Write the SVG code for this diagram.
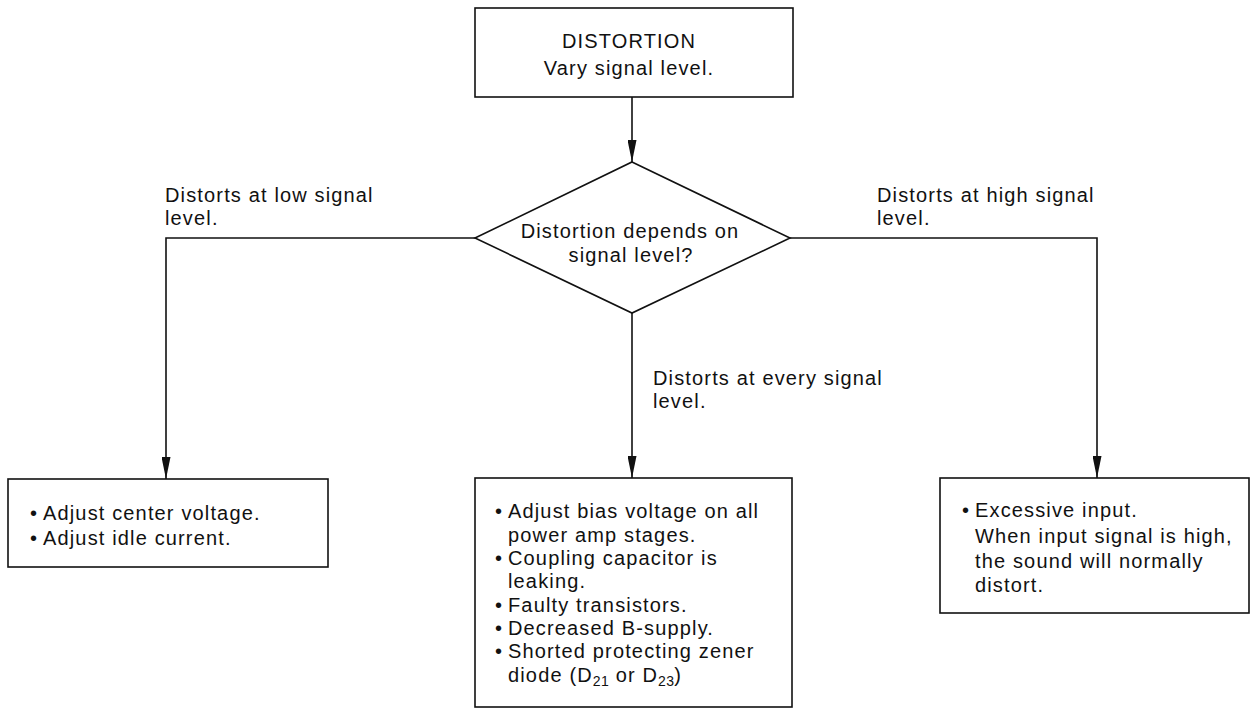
<svg xmlns="http://www.w3.org/2000/svg" width="1253" height="708" viewBox="0 0 1253 708">
<style>
.n{fill:#fff;stroke:#111;stroke-width:1.6}
.c{fill:none;stroke:#111;stroke-width:1.6}
text{font-family:"Liberation Sans",Arial,sans-serif;font-size:20px;letter-spacing:1.15px;fill:#111}
.m{text-anchor:middle}
.s{font-size:14px;letter-spacing:0.3px}
</style>
<defs>
<marker id="ah" viewBox="0 0 22 9" refX="22" refY="4.5" markerWidth="22" markerHeight="9" markerUnits="userSpaceOnUse" orient="auto">
<path d="M0,0 L22,4.5 L0,9 Z" fill="#111"/>
</marker>
</defs>
<rect width="1253" height="708" fill="#fff"/>
<g id="connectors">
<line class="c" x1="632" y1="97" x2="632" y2="162" marker-end="url(#ah)"/>
<path class="c" d="M475,238 H166 V479" marker-end="url(#ah)"/>
<path class="c" d="M790,238 H1097 V478" marker-end="url(#ah)"/>
<line class="c" x1="632" y1="313" x2="632" y2="478" marker-end="url(#ah)"/>
</g>
<g id="lbl-low">
<text x="165" y="202">Distorts at low signal</text>
<text x="165" y="225">level.</text>
</g>
<g id="lbl-high">
<text x="877" y="202">Distorts at high signal</text>
<text x="877" y="225">level.</text>
</g>
<g id="lbl-every">
<text x="653" y="385">Distorts at every signal</text>
<text x="653" y="408">level.</text>
</g>
<g id="start">
<rect class="n" x="475" y="8" width="318" height="89"/>
<text class="m" x="629" y="48">DISTORTION</text>
<text class="m" x="629" y="75">Vary signal level.</text>
</g>
<g id="decision">
<polygon class="n" points="632,162 790,238 632,313 475,238"/>
<text class="m" x="630" y="238">Distortion depends on</text>
<text class="m" x="631" y="262">signal level?</text>
</g>
<g id="low">
<rect class="n" x="8" y="479" width="320" height="88"/>
<text x="30" y="520">•<tspan x="43">Adjust center voltage.</tspan></text>
<text x="30" y="545">•<tspan x="43">Adjust idle current.</tspan></text>
</g>
<g id="every">
<rect class="n" x="475" y="478" width="317" height="229"/>
<text x="495" y="518">•<tspan x="508">Adjust bias voltage on all</tspan></text>
<text x="508" y="542">power amp stages.</text>
<text x="495" y="565">•<tspan x="508">Coupling capacitor is</tspan></text>
<text x="508" y="588">leaking.</text>
<text x="495" y="612">•<tspan x="508">Faulty transistors.</tspan></text>
<text x="495" y="635">•<tspan x="508">Decreased B-supply.</tspan></text>
<text x="495" y="658">•<tspan x="508">Shorted protecting zener</tspan></text>
<text x="508" y="682">diode (D<tspan class="s" dy="4">21</tspan><tspan dy="-4"> or D</tspan><tspan class="s" dy="4">23</tspan><tspan dy="-4">)</tspan></text>
</g>
<g id="high">
<rect class="n" x="940" y="478" width="309" height="135"/>
<text x="962" y="517">•<tspan x="975">Excessive input.</tspan></text>
<text x="975" y="543">When input signal is high,</text>
<text x="975" y="568">the sound will normally</text>
<text x="975" y="592">distort.</text>
</g>
</svg>
